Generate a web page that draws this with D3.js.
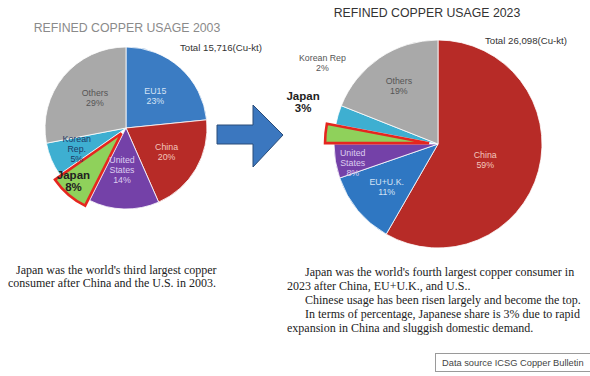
<!DOCTYPE html>
<html>
<head>
<meta charset="utf-8">
<script src="https://cdn.jsdelivr.net/npm/d3@7"></script>
<style>
  body { margin: 0; background: #fff; }
  svg { display: block; }
  .sans { font-family: "Liberation Sans", Arial, sans-serif; }
  .serif { font-family: "Liberation Serif", "Times New Roman", serif; }
</style>
</head>
<body>
<div id="chart"></div>
<script>
// ---- data ----
var names2003 = ["EU15", "China", "United States", "Japan", "Korean Rep.", "Others"];
var shares2003 = [23.4, 20.0, 14.0, 7.9, 6.7, 28.0];   // % of 15,716 kt
var labels2003 = ["23%", "20%", "14%", "8%", "5%", "29%"];

var names2023 = ["China", "EU+U.K.", "United States", "Japan", "Korean Rep", "Others"];
var shares2023 = [58.3, 11.4, 5.3, 3.0, 3.0, 19.0];    // % of 26,098 kt
var labels2023 = ["59%", "11%", "8%", "3%", "2%", "19%"];

var totals = ["Total 15,716(Cu-kt)", "Total 26,098(Cu-kt)"];
var titles = ["REFINED COPPER USAGE 2003", "REFINED COPPER USAGE 2023"];

var note2003 = [
  "Japan was the world's third largest copper",
  "consumer after China and the U.S. in 2003."
];
var note2023 = [
  "Japan was the world's fourth largest copper consumer in",
  "2023 after China, EU+U.K., and U.S..",
  "Chinese usage has been risen largely and become the top.",
  "In terms of percentage, Japanese share is 3% due to rapid",
  "expansion in China and sluggish domestic demand."
];
var sourceText = "Data source  ICSG Copper Bulletin";

// ---- styling ----
var fill = {
  "EU15": "#3b7cc3", "EU+U.K.": "#2f77c2",
  "China": "#b72b27", "United States": "#7441a8",
  "Japan": "#8fd15b", "Korean Rep.": "#3eafd1", "Korean Rep": "#3eafd1",
  "Others": "#a9a9a9"
};
var textFill = {
  "EU15": "#d4e3f5", "EU+U.K.": "#d4e3f5",
  "China": "#f3c6bd", "United States": "#dccdf0",
  "Japan": "#111", "Korean Rep.": "#1d3a66", "Korean Rep": "#555",
  "Others": "#555"
};

var svg = d3.select("#chart").append("svg")
    .attr("width", 590)
    .attr("height", 376);

function drawPie(opt) {
  var pie = d3.pie().sort(null).value(function(d) { return d.v; });
  var rows = opt.names.map(function(n, i) {
    return {name: n, v: opt.shares[i], label: opt.labels[i]};
  });
  var arcs = pie(rows);
  var arc = d3.arc().innerRadius(0).outerRadius(opt.r);

  var g = svg.append("g")
      .attr("transform", "translate(" + opt.cx + "," + opt.cy + ")");

  function offset(d, k) {
    var a = (d.startAngle + d.endAngle) / 2;
    return [Math.sin(a) * k, -Math.cos(a) * k];
  }

  g.selectAll("path.slice")
    .data(arcs)
    .enter().append("path")
      .attr("class", "slice")
      .attr("d", arc)
      .attr("fill", function(d) { return fill[d.data.name]; })
      .attr("stroke", "#fff")
      .attr("stroke-width", 0.8)
      .attr("transform", function(d) {
        if (d.data.name != "Japan") return null;
        var o = offset(d, opt.explode);
        return "translate(" + o[0] + "," + o[1] + ")";
      })
      .filter(function(d) { return d.data.name == "Japan"; })
        .attr("stroke", "#e5261f")
        .attr("stroke-width", 2.6)
        .attr("stroke-linejoin", "miter")
        .raise();

  // labels
  arcs.forEach(function(d) {
    var lp = opt.labelPos[d.data.name];
    var a = (d.startAngle + d.endAngle) / 2 + (lp.da || 0) * Math.PI / 180;
    var rr = opt.r * lp.k;
    var x = Math.sin(a) * rr, y = -Math.cos(a) * rr;
    var words = lp.lines.concat([d.data.label]);
    var big = d.data.name == "Japan";
    var fs = big ? 11.5 : 8.8;
    var lh = big ? 12 : 10;
    var t = g.append("text")
        .attr("class", "sans")
        .attr("text-anchor", "middle")
        .attr("font-size", fs)
        .attr("font-weight", big ? "bold" : "normal")
        .attr("fill", lp.outside && !big ? "#555" : (big ? "#222" : textFill[d.data.name]));
    words.forEach(function(w, i) {
      t.append("tspan")
        .attr("x", x)
        .attr("y", y + (i - (words.length - 1) / 2) * lh + fs * 0.35)
        .text(w);
    });
  });

  svg.append("text")
    .attr("class", "sans")
    .attr("x", opt.titleX).attr("y", opt.titleY)
    .attr("text-anchor", "middle")
    .attr("font-size", 12.3)
    .attr("fill", opt.titleColor)
    .text(opt.title);

  svg.append("text")
    .attr("class", "sans")
    .attr("x", opt.totalX).attr("y", opt.totalY)
    .attr("font-size", 9)
    .attr("textLength", 82)
    .attr("lengthAdjust", "spacingAndGlyphs")
    .attr("fill", "#333")
    .text(opt.total);
}

drawPie({
  names: names2003, shares: shares2003, labels: labels2003,
  cx: 126, cy: 128, r: 81, explode: 7,
  title: titles[0], titleX: 127, titleY: 32, titleColor: "#8a8a8a",
  total: totals[0], totalX: 180, totalY: 51,
  labelPos: {
    "EU15": {k: 0.54, lines: ["EU15"]},
    "China": {k: 0.58, lines: ["China"]},
    "United States": {k: 0.52, da: 4, lines: ["United", "States"]},
    "Japan": {k: 0.92, da: 4, lines: ["Japan"]},
    "Korean Rep.": {k: 0.66, lines: ["Korean", "Rep."]},
    "Others": {k: 0.53, da: 4, lines: ["Others"]}
  }
});

drawPie({
  names: names2023, shares: shares2023, labels: labels2023,
  cx: 438, cy: 144, r: 104, explode: 9,
  title: titles[1], titleX: 427, titleY: 17, titleColor: "#333",
  total: totals[1], totalX: 485, totalY: 44,
  labelPos: {
    "China": {k: 0.48, da: 4, lines: ["China"]},
    "EU+U.K.": {k: 0.64, lines: ["EU+U.K."]},
    "United States": {k: 0.84, da: -3, lines: ["United", "States"]},
    "Japan": {k: 1.36, da: 12, lines: ["Japan"], outside: true},
    "Korean Rep": {k: 1.36, da: 19, lines: ["Korean Rep"], outside: true},
    "Others": {k: 0.67, lines: ["Others"]}
  }
});

// arrow between the two pies
var arrowPts = [[217, 125], [253, 125], [253, 105], [283, 135], [253, 167], [253, 144], [217, 144]];
svg.append("path")
  .attr("d", d3.line()(arrowPts) + "Z")
  .attr("fill", "#3b77bf")
  .attr("stroke", "#2a4c78")
  .attr("stroke-width", 1);

// notes
function drawNote(lines, x0, y0, lh, indentX, indents) {
  var t = svg.append("text")
    .attr("class", "serif")
    .attr("font-size", 12)
    .attr("fill", "#222");
  lines.forEach(function(s, i) {
    t.append("tspan")
      .attr("x", indents[i] ? indentX : x0)
      .attr("y", y0 + i * lh)
      .text(s);
  });
}
drawNote(note2003, 8, 274, 13, 16, [true, false]);
drawNote(note2023, 287, 276, 14, 305, [true, false, true, true, false]);

svg.append("rect")
  .attr("x", 435.5).attr("y", 353.5)
  .attr("width", 160).attr("height", 18)
  .attr("fill", "#fff")
  .attr("stroke", "#9a9a9a");
svg.append("text")
  .attr("class", "sans")
  .attr("x", 442).attr("y", 366)
  .attr("font-size", 9.3)
  .attr("fill", "#444")
  .text(sourceText);
</script>
</body>
</html>
